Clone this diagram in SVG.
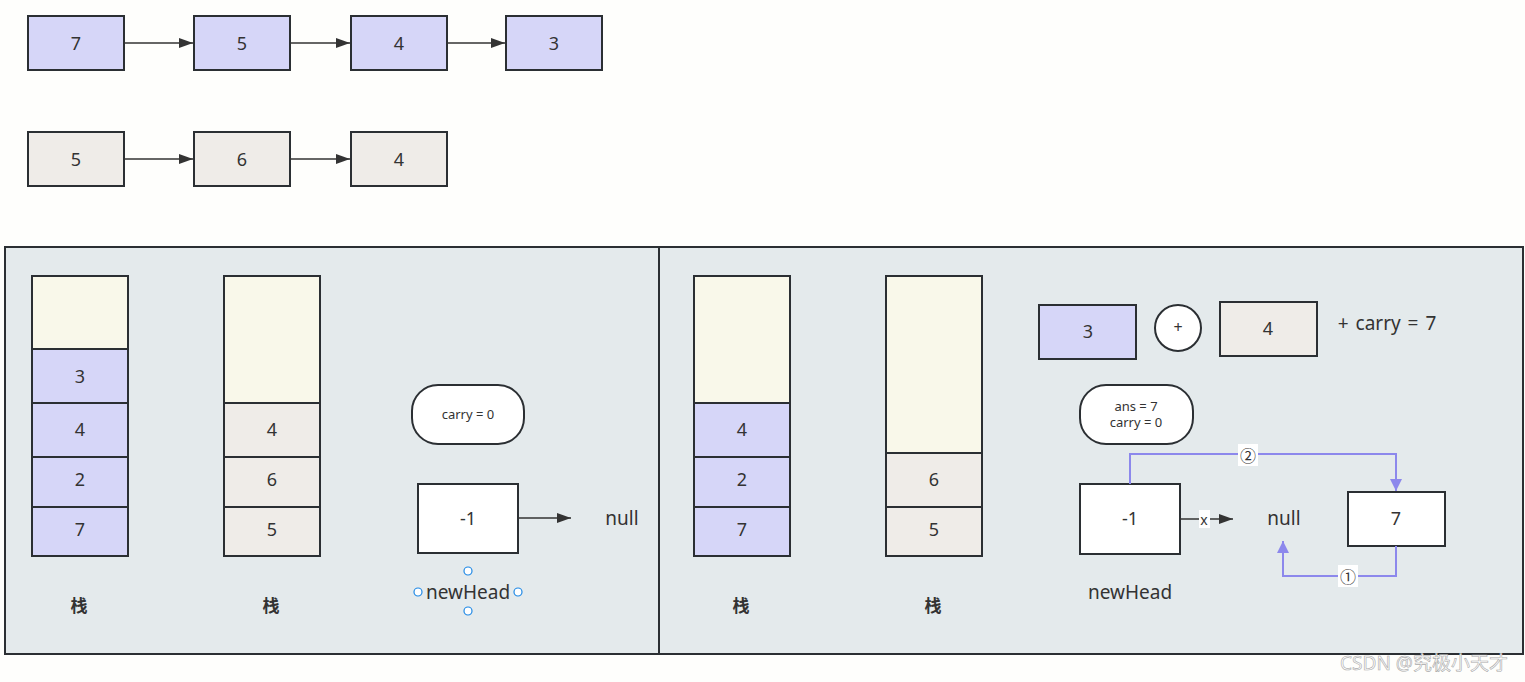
<svg xmlns="http://www.w3.org/2000/svg" width="1525" height="682" viewBox="0 0 1525 682">
<defs>
<style>
text{font-family:"Noto Sans","Noto Sans CJK SC",sans-serif;fill:#333;text-anchor:middle;dominant-baseline:central}
.n{font-size:18px}
.s{font-size:13px}
.b{stroke:#2b2f33;stroke-width:2}
.p{fill:#d6d6f8}
.g{fill:#efece8}
.y{fill:#f9f8ea}
.w{fill:#fff}
.panel{fill:#e4eaec;stroke:#2b2f33;stroke-width:2}
.c{fill:none;stroke:#333;stroke-width:1.5}
.bl{fill:none;stroke:#8c88ec;stroke-width:2}
.h{fill:#fff;stroke:#1e88e5;stroke-width:1.2}
.zh{font-size:17px;font-weight:bold}
</style>
<marker id="ah" viewBox="0 0 10 10" refX="10" refY="5" markerWidth="14" markerHeight="14" markerUnits="userSpaceOnUse" orient="auto"><path d="M0,1.5 L10,5 L0,8.5 Z" fill="#333"/></marker>
<marker id="ab" viewBox="0 0 10 10" refX="10" refY="5" markerWidth="12" markerHeight="14" markerUnits="userSpaceOnUse" orient="auto"><path d="M0,0 L10,5 L0,10 Z" fill="#8c88ec"/></marker>
</defs>
<rect width="1525" height="682" fill="#fefefc"/>

<g id="list1">
<g id="l1a"><rect class="b p" x="28" y="16" width="96" height="54"/><text class="n" x="76" y="43">7</text></g>
<g id="l1b"><rect class="b p" x="194" y="16" width="96" height="54"/><text class="n" x="242" y="43">5</text></g>
<g id="l1c"><rect class="b p" x="351" y="16" width="96" height="54"/><text class="n" x="399" y="43">4</text></g>
<g id="l1d"><rect class="b p" x="506" y="16" width="96" height="54"/><text class="n" x="554" y="43">3</text></g>
</g>
<g id="list2">
<g id="l2a"><rect class="b g" x="28" y="132" width="96" height="54"/><text class="n" x="76" y="159">5</text></g>
<g id="l2b"><rect class="b g" x="194" y="132" width="96" height="54"/><text class="n" x="242" y="159">6</text></g>
<g id="l2c"><rect class="b g" x="351" y="132" width="96" height="54"/><text class="n" x="399" y="159">4</text></g>
</g>

<g id="panels">
<rect class="panel" x="5" y="247" width="654" height="407"/>
<rect class="panel" x="659" y="247" width="864" height="407"/>
</g>

<g id="stack1">
<rect class="b y" x="32" y="276" width="96" height="73"/>
<rect class="b p" x="32" y="349" width="96" height="54"/><text class="n" x="80" y="376">3</text>
<rect class="b p" x="32" y="403" width="96" height="54"/><text class="n" x="80" y="429">4</text>
<rect class="b p" x="32" y="457" width="96" height="50"/><text class="n" x="80" y="479">2</text>
<rect class="b p" x="32" y="507" width="96" height="49"/><text class="n" x="80" y="529">7</text>
<text class="zh" x="79" y="605">栈</text>
</g>
<g id="stack2">
<rect class="b y" x="224" y="276" width="96" height="127"/>
<rect class="b g" x="224" y="403" width="96" height="54"/><text class="n" x="272" y="429">4</text>
<rect class="b g" x="224" y="457" width="96" height="50"/><text class="n" x="272" y="479">6</text>
<rect class="b g" x="224" y="507" width="96" height="49"/><text class="n" x="272" y="529">5</text>
<text class="zh" x="271" y="605">栈</text>
</g>
<g id="carry1"><rect class="b w" x="412" y="385" width="112" height="59" rx="26"/><text class="s" x="468" y="414">carry = 0</text></g>
<g id="head1"><rect class="b w" x="418" y="484" width="100" height="69"/><text class="n" x="468" y="518">-1</text>
<text class="n" x="468" y="592" style="font-size:19px">newHead</text>
<circle class="h" cx="468" cy="571" r="4"/><circle class="h" cx="418" cy="592" r="4"/><circle class="h" cx="518" cy="592" r="4"/><circle class="h" cx="468" cy="611" r="4"/>
</g>
<g id="null1"><text class="n" x="622" y="518" style="font-size:19px">null</text></g>

<g id="stack3">
<rect class="b y" x="694" y="276" width="96" height="127"/>
<rect class="b p" x="694" y="403" width="96" height="54"/><text class="n" x="742" y="429">4</text>
<rect class="b p" x="694" y="457" width="96" height="50"/><text class="n" x="742" y="479">2</text>
<rect class="b p" x="694" y="507" width="96" height="49"/><text class="n" x="742" y="529">7</text>
<text class="zh" x="741" y="605">栈</text>
</g>
<g id="stack4">
<rect class="b y" x="886" y="276" width="96" height="177"/>
<rect class="b g" x="886" y="453" width="96" height="54"/><text class="n" x="934" y="479">6</text>
<rect class="b g" x="886" y="507" width="96" height="49"/><text class="n" x="934" y="529">5</text>
<text class="zh" x="933" y="605">栈</text>
</g>
<g id="op3"><rect class="b p" x="1039" y="305" width="97" height="54"/><text class="n" x="1088" y="331">3</text></g>
<g id="plus"><circle class="b w" cx="1178" cy="328" r="23"/><text x="1178" y="327" style="font-size:16px">+</text></g>
<g id="op4"><rect class="b g" x="1220" y="302" width="97" height="54"/><text class="n" x="1268" y="328">4</text></g>
<g id="sum"><text class="n" x="1387" y="323" style="font-size:19px;word-spacing:2px">+ carry = 7</text></g>
<g id="carry2"><rect class="b w" x="1080" y="385" width="113" height="59" rx="26"/><text class="s" x="1136" y="406">ans = 7</text><text class="s" x="1136" y="422">carry = 0</text></g>
<g id="head2"><rect class="b w" x="1080" y="484" width="100" height="70"/><text class="n" x="1130" y="518">-1</text><text class="n" x="1130" y="592" style="font-size:19px">newHead</text></g>
<g id="null2"><text class="n" x="1284" y="518" style="font-size:19px">null</text></g>
<g id="node7"><rect class="b w" x="1348" y="492" width="97" height="54"/><text class="n" x="1396" y="518">7</text></g>

<g id="connectors">
<path class="c" d="M124,43 H193" marker-end="url(#ah)"/>
<path class="c" d="M290,43 H350" marker-end="url(#ah)"/>
<path class="c" d="M447,43 H505" marker-end="url(#ah)"/>
<path class="c" d="M124,159 H193" marker-end="url(#ah)"/>
<path class="c" d="M290,159 H350" marker-end="url(#ah)"/>
<path class="c" d="M518,518 H571" marker-end="url(#ah)"/>
<path class="c" d="M1180,519 H1233" marker-end="url(#ah)"/>
<rect x="1199" y="510" width="11" height="18" fill="#fff"/><text x="1204" y="519" style="font-size:14px">x</text>
<path class="bl" d="M1130,484 V454 H1396 V491" marker-end="url(#ab)"/>
<rect x="1238" y="444" width="20" height="22" fill="#fff"/><text x="1248" y="456" style="font-size:16px">②</text>
<path class="bl" d="M1396,546 V576 H1283 V541" marker-end="url(#ab)"/>
<rect x="1338" y="565" width="20" height="22" fill="#fff"/><text x="1348" y="577" style="font-size:16px">①</text>
</g>

<text x="1424" y="663" style="font-size:19px;fill:#fff;stroke:#aaa;stroke-width:0.6">CSDN @究极小天才</text>
</svg>
